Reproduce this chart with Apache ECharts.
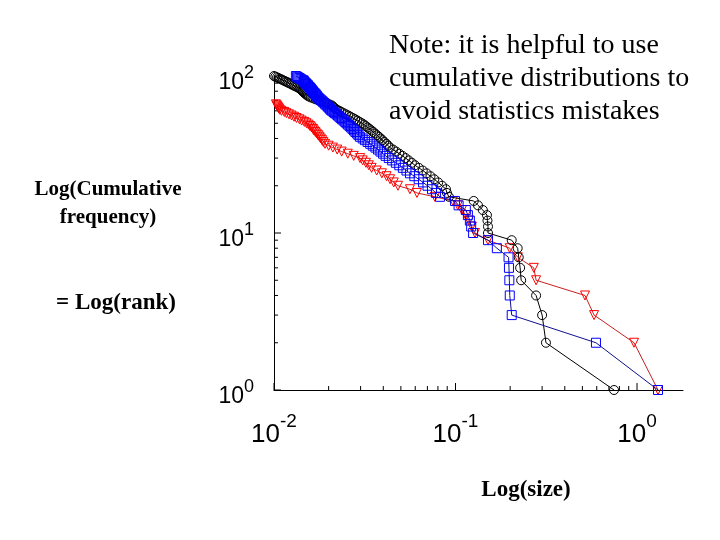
<!DOCTYPE html>
<html>
<head>
<meta charset="utf-8">
<script src="https://cdn.jsdelivr.net/npm/echarts@6/dist/echarts.min.js"></script>
<style>
  html, body { margin: 0; padding: 0; background: #fff; }
  #main { width: 720px; height: 540px; }
</style>
</head>
<body>
<div id="main"></div>
<script>
// size of the item at rank 1, 2, 3 ... (rank = cumulative frequency)
var blackSize = [0.747, 0.315, 0.300, 0.278, 0.230, 0.227, 0.223, 0.220, 0.204, 0.151,
    0.151, 0.150, 0.149, 0.1415, 0.133, 0.126, 0.092, 0.0897, 0.0886, 0.0843,
    0.0803, 0.0764, 0.0728, 0.0693, 0.0660, 0.0628, 0.0598, 0.0575, 0.0552, 0.0531,
    0.0510, 0.0490, 0.0471, 0.0453, 0.0435, 0.0425, 0.0416, 0.0405, 0.0396, 0.0387,
    0.0378, 0.0369, 0.0360, 0.0352, 0.0344, 0.0336, 0.0328, 0.0320, 0.0313, 0.0305,
    0.0296, 0.0288, 0.0280, 0.0272, 0.0264, 0.0257, 0.0249, 0.0242, 0.0235, 0.0229,
    0.0222, 0.0218, 0.0213, 0.0211, 0.0208, 0.0202, 0.0196, 0.01885, 0.0181, 0.0176,
    0.0170, 0.0165, 0.0160, 0.0156, 0.0153, 0.0151, 0.0149, 0.0147, 0.0145, 0.0144,
    0.0143, 0.0141, 0.0139, 0.01365, 0.0134, 0.0131, 0.01287, 0.0126, 0.01238, 0.01212,
    0.0119, 0.01167, 0.01144, 0.01122, 0.01101, 0.01079, 0.01058, 0.01039, 0.01018, 0.0100];

var blueSize = [1.305, 0.594, 0.204, 0.199, 0.198, 0.197, 0.196, 0.169, 0.151, 0.125,
    0.122, 0.120, 0.117, 0.114, 0.104, 0.0993, 0.0821, 0.0780, 0.0742, 0.0701,
    0.0662, 0.0627, 0.0593, 0.0561, 0.0537, 0.0513, 0.0490, 0.0469, 0.0448, 0.0429,
    0.0412, 0.0399, 0.0386, 0.0374, 0.0362, 0.0350, 0.0339, 0.0328, 0.0317, 0.0308,
    0.0298, 0.0292, 0.0287, 0.0281, 0.0276, 0.0271, 0.0266, 0.0261, 0.0256, 0.0251,
    0.0247, 0.0242, 0.0237, 0.0233, 0.0229, 0.0225, 0.0221, 0.0216, 0.0213, 0.0209,
    0.0205, 0.0203, 0.0200, 0.0198, 0.0195, 0.0192, 0.0190, 0.0187, 0.0185, 0.0182,
    0.0180, 0.0177, 0.0175, 0.0173, 0.0172, 0.0170, 0.0169, 0.0167, 0.0165, 0.0164,
    0.0162, 0.0161, 0.0160, 0.0158, 0.0157, 0.0155, 0.0154, 0.0153, 0.0151, 0.0150,
    0.0148, 0.0147, 0.0146, 0.0145, 0.0142, 0.0140, 0.0138, 0.0136, 0.0134, 0.0132];

var redSize = [1.305, 0.963, 0.580, 0.517, 0.278, 0.270, 0.2205, 0.199, 0.151, 0.128,
    0.123, 0.1185, 0.114, 0.1085, 0.103, 0.0968, 0.0770, 0.0613, 0.0561, 0.0482,
    0.0457, 0.0436, 0.0417, 0.0393, 0.0368, 0.0345, 0.0333, 0.0321, 0.0308, 0.0298,
    0.0275, 0.0255, 0.0236, 0.0223, 0.0211, 0.0200, 0.0191, 0.0187, 0.0184, 0.0181,
    0.0178, 0.0175, 0.0172, 0.0169, 0.0166, 0.0164, 0.0161, 0.0158, 0.0155, 0.0151,
    0.0147, 0.0142, 0.0138, 0.0133, 0.0129, 0.0125, 0.0121, 0.0117, 0.0114, 0.0110,
    0.01076, 0.01065, 0.01056, 0.01045, 0.01036, 0.01025];

var xDecades = [0.01, 0.1, 1];
var yDecades = [1, 10, 100];
var xRange = [0.01, 1.792];
var yRange = [1, 100];

var noteText = 'Note: it is helpful to use\ncumulative distributions to\navoid statistics mistakes';
var yTitleTop = 'Log(Cumulative\nfrequency)';
var yTitleBottom = '= Log(rank)';
var xTitle = 'Log(size)';

function toPoints(sizes) {
    var pts = [];
    for (let i = 0, len = sizes.length; i < len; i++) {
        pts.push([sizes[i], i + 1]);
    }
    return pts;
}

// decade ticks plus 2..9 in between, drawn as data through the axes
function tickValues(decades, last) {
    var vals = [];
    for (let i = 0; i < decades.length; i++) {
        vals.push(decades[i]);
        for (let k = 2; k <= 9; k++) {
            var v = decades[i] * k;
            if (v <= last * 1.0001) vals.push(v);
        }
    }
    return vals;
}

function isDecade(v) {
    var e = Math.log10(v);
    return Math.abs(e - Math.round(e)) < 1e-6;
}

var tickData = [];
tickValues(xDecades, xRange[1]).forEach(function (v) { tickData.push([v, yRange[0], 0]); });
tickValues(yDecades, yRange[1]).forEach(function (v) { tickData.push([xRange[0], v, 1]); });

function powLabel(value) {
    if (!isDecade(value)) return '';
    var e = Math.round(Math.log10(value));
    return '{b|10}{s|' + e + '}';
}

var chart = echarts.init(document.getElementById('main'));

var option = {
    animation: false,
    backgroundColor: '#fff',
    grid: { left: 274, top: 76, right: 37, bottom: 150 },
    xAxis: {
        type: 'log',
        min: xRange[0],
        max: xRange[1],
        interval: 1,
        axisLine: { show: true, lineStyle: { color: '#000', width: 1 } },
        axisTick: { show: false },
        splitLine: { show: false },
        axisLabel: {
            margin: 22,
            showMaxLabel: false,
            formatter: powLabel,
            rich: {
                b: { fontFamily: 'Liberation Sans', fontSize: 26, color: '#000', verticalAlign: 'bottom', lineHeight: 36 },
                s: { fontFamily: 'Liberation Sans', fontSize: 19, color: '#000', verticalAlign: 'top', lineHeight: 36 }
            }
        }
    },
    yAxis: {
        type: 'log',
        min: yRange[0],
        max: yRange[1],
        interval: 1,
        axisLine: { show: true, lineStyle: { color: '#000', width: 1 } },
        axisTick: { show: false },
        splitLine: { show: false },
        axisLabel: {
            margin: 20,
            padding: [6, 0, 0, 0],
            formatter: powLabel,
            rich: {
                b: { fontFamily: 'Liberation Sans', fontSize: 23, color: '#000', verticalAlign: 'bottom', lineHeight: 30 },
                s: { fontFamily: 'Liberation Sans', fontSize: 18, color: '#000', verticalAlign: 'top', lineHeight: 30 }
            }
        }
    },
    graphic: [
        {
            type: 'text', left: 389, top: 29,
            style: { text: noteText, fontFamily: 'Liberation Serif', fontSize: 28, lineHeight: 33, fill: '#000' }
        },
        {
            type: 'text', x: 108, y: 204,
            style: { text: yTitleTop, fontFamily: 'Liberation Serif', fontWeight: 'bold', fontSize: 21, lineHeight: 28,
                fill: '#000', align: 'center', verticalAlign: 'middle' }
        },
        {
            type: 'text', x: 116, y: 303,
            style: { text: yTitleBottom, fontFamily: 'Liberation Serif', fontWeight: 'bold', fontSize: 23,
                fill: '#000', align: 'center', verticalAlign: 'middle' }
        },
        {
            type: 'text', x: 526, y: 490,
            style: { text: xTitle, fontFamily: 'Liberation Serif', fontWeight: 'bold', fontSize: 23,
                fill: '#000', align: 'center', verticalAlign: 'middle' }
        }
    ],
    series: [
        {
            name: 'ticks',
            type: 'custom',
            silent: true,
            clip: false,
            z: 1,
            data: tickData,
            renderItem: function (params, api) {
                var x = api.value(0), y = api.value(1), horiz = api.value(2) === 1;
                var p = api.coord([x, y]);
                var len = isDecade(horiz ? y : x) ? 7 : 4;
                var end = horiz ? [p[0] + len, p[1]] : [p[0], p[1] - len];
                return {
                    type: 'line',
                    shape: { x1: p[0], y1: p[1], x2: end[0], y2: end[1] },
                    style: { stroke: '#000', lineWidth: 1 }
                };
            }
        },
        {
            name: 'red',
            type: 'line',
            data: toPoints(redSize),
            symbol: 'triangle',
            symbolRotate: 180,
            symbolSize: 9,
            itemStyle: { color: 'rgba(0,0,0,0)', borderColor: '#ff0000', borderWidth: 1 },
            lineStyle: { color: '#c82020', width: 1 },
            emphasis: { disabled: true },
            z: 2
        },
        {
            name: 'black',
            type: 'line',
            data: toPoints(blackSize),
            symbol: 'circle',
            symbolSize: 9,
            itemStyle: { color: 'rgba(0,0,0,0)', borderColor: '#000', borderWidth: 1 },
            lineStyle: { color: '#000', width: 1 },
            emphasis: { disabled: true },
            z: 3
        },
        {
            name: 'blue',
            type: 'line',
            data: toPoints(blueSize),
            symbol: 'rect',
            symbolSize: 9,
            itemStyle: { color: 'rgba(0,0,0,0)', borderColor: '#0000ff', borderWidth: 1 },
            lineStyle: { color: '#10108c', width: 1 },
            emphasis: { disabled: true },
            z: 4
        }
    ]
};
chart.setOption(option);
</script>
</body>
</html>
